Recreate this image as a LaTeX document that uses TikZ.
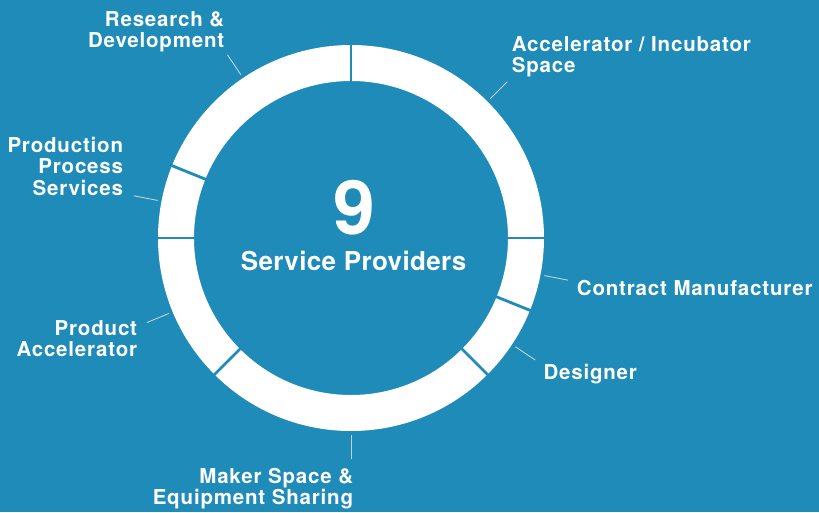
\documentclass[tikz,border=0pt]{standalone}
\usepackage{fontspec}
\setmainfont{TeX Gyre Heros}
\newfontfamily\labelfont[LetterSpace=4]{TeX Gyre Heros}
\newfontfamily\hubfont[LetterSpace=1.5]{TeX Gyre Heros}
\usepackage{tikz}
\usetikzlibrary{calc}

\definecolor{bgblue}{RGB}{30,139,184}
\definecolor{leadergray}{RGB}{196,210,216}

\begin{document}
\begin{tikzpicture}[x=1pt,y=1pt,
    lbl/.style={text=white,inner sep=0pt,font=\labelfont\bfseries\fontsize{20.5}{21.3}\selectfont},
    hub/.style={text=white,inner sep=0pt,anchor=base},
    leader/.style={draw=leadergray,line width=0.9pt},
    gap/.style={draw=bgblue,line width=2.8pt}]
  \useasboundingbox (-351,-274) rectangle (468,238);
  \fill[bgblue] (-351,-274) rectangle (468,238);

  \fill[white,even odd rule] (0,0) circle (193pt) (0,0) circle (157pt);
  \foreach \a in {90,0,-22,-45,-135,180,158}
    \draw[gap] (\a:154pt) -- (\a:196pt);

  \foreach \a/\n in {124/rd,169/pp,45/ai,-11/cm,-33.5/de,-90/ms,202.5/pa} {
    \coordinate (\n-in) at (\a:197pt);
    \coordinate (\n-out) at (\a:221pt);
    \draw[leader] (\n-in) -- (\n-out);
  }

  \node[hub,font=\hubfont\bfseries\fontsize{75}{75}\selectfont] (count) at (3,4) {9};
  \node[hub,font=\hubfont\bfseries\fontsize{26}{28}\selectfont] (title) at (2.6,-32.7) {Service Providers};

  \node[lbl,anchor=base east,align=right] (rd) at (-126.5,190.7) {Research \&\\Development};
  \node[lbl,anchor=base west,align=left] (ai) at (160.7,165.3) {Accelerator / Incubator\\Space};
  \node[lbl,anchor=base east,align=right] (pp) at (-227.7,43) {Production\\Process\\Services};
  \node[lbl,anchor=base west] (cm) at (225.7,-57.7) {Contract Manufacturer};
  \node[lbl,anchor=base west] (de) at (192.3,-141) {Designer};
  \node[lbl,anchor=base east,align=right] (pa) at (-213.7,-118.7) {Product\\Accelerator};
  \node[lbl,anchor=base east,align=right] (ms) at (2.3,-266.3) {Maker Space \&\\Equipment Sharing};
\end{tikzpicture}
\end{document}
